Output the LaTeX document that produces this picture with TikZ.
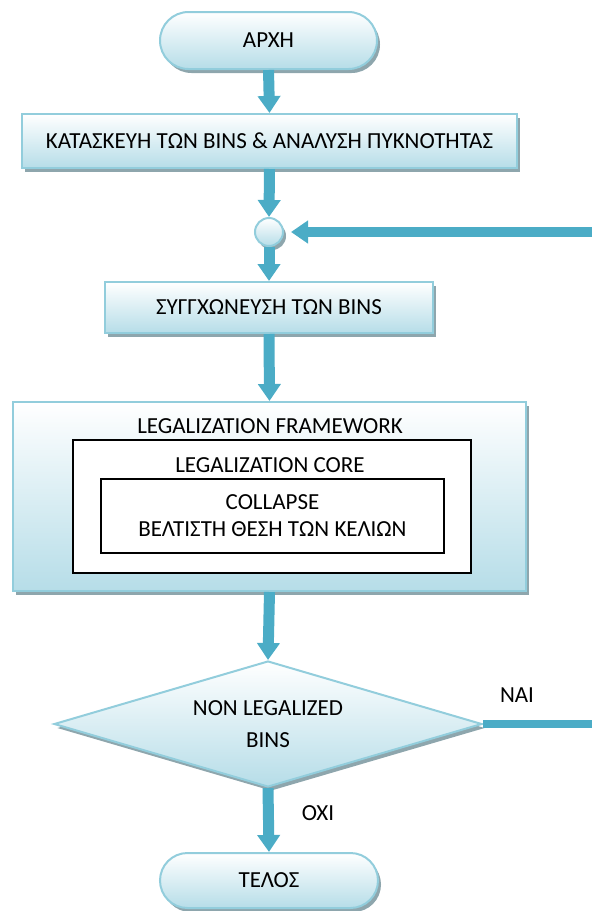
\documentclass[tikz,border=0pt]{standalone}
\usepackage{fontspec}
\setmainfont{Carlito}
\usepackage{tikz}
\usetikzlibrary{arrows.meta,positioning,shapes.geometric,shapes.misc,shadows}

\definecolor{edgeblue}{HTML}{92CDDC}
\definecolor{fillblue}{HTML}{B6DDE8}
\definecolor{flowblue}{HTML}{4BACC6}
\definecolor{shadegray}{HTML}{8EA6AD}

\begin{document}
\begin{tikzpicture}[x=1pt, y=-1pt,
    font=\fontsize{23}{32}\selectfont,
    boxshadow/.style={drop shadow={shadow xshift=3pt, shadow yshift=-4pt, fill=shadegray, opacity=1}},
    panel/.style={draw=edgeblue, line width=2pt, top color=white, bottom color=fillblue, boxshadow, inner sep=0pt},
    terminal/.style={panel, rounded rectangle, minimum width=217pt, minimum height=57pt},
    stepbox/.style={panel, rectangle, minimum height=54pt},
    decision/.style={panel, diamond, aspect=3.4, minimum width=428pt, minimum height=126pt},
    junction/.style={panel, circle, minimum size=28pt},
    plainbox/.style={draw=black, line width=1.5pt, fill=white, inner sep=0pt},
    flow/.style={flowblue, line width=11pt, -{Triangle[width=22pt, length=17pt]}},
    loopline/.style={flowblue, line width=8pt}
]
    \useasboundingbox (0,0) rectangle (592,911);

    % Start and first steps
    \node[terminal] (start) at (268.5,40.5) {ΑΡΧΗ};
    \node[stepbox, minimum width=495pt] (bins) at (269.5,141) {ΚΑΤΑΣΚΕΥΗ ΤΩΝ BINS \& ΑΝΑΛΥΣΗ ΠΥΚΝΟΤΗΤΑΣ};
    \node[junction] (merge) at (269,232) {};
    \node[stepbox, minimum width=328pt, minimum height=51pt] (join) at (269,307.5) {ΣΥΓΓΧΩΝΕΥΣΗ ΤΩΝ BINS};

    % Legalization framework
    \node[panel, minimum width=513pt, minimum height=189pt] (frame) at (269.5,496.5) {};
    \node (frametitle) at (270,426) {LEGALIZATION FRAMEWORK};
    \node[plainbox, minimum width=398pt, minimum height=133pt] (core) at (272,506.5) {};
    \node (coretitle) at (270,465) {LEGALIZATION CORE};
    \node[plainbox, minimum width=343pt, minimum height=74pt, align=center,
          font=\fontsize{23}{27}\selectfont] (collapse) at (272.5,516) {COLLAPSE\\ΒΕΛΤΙΣΤΗ ΘΕΣΗ ΤΩΝ ΚΕΛΙΩΝ};

    % Decision and end
    \node[decision, align=center] (check) at (268,724) {NON LEGALIZED\\BINS};
    \node[terminal, minimum width=218pt, minimum height=55pt] (stop) at (269,880.5) {ΤΕΛΟΣ};
    \node (yes) at (517,695) {ΝΑΙ};
    \node (no) at (318,813) {ΟΧΙ};

    % Flow arrows
    \draw[flow] (start.south) -- (bins.north);
    \draw[flow] (bins.south) -- (merge.north);
    \draw[flow] (merge.south) -- (join.north);
    \draw[flow] (join.south) -- (frame.north);
    \draw[flow] (frame.south) -- (check.north);
    \draw[flow] (check.south) -- (stop.north);

    % Loop back
    \coordinate (loopin) at (592,232);
    \coordinate (loopout) at (592,724);
    \draw[loopline] (check.east) -- (loopout);
    \draw[flow, line width=10pt, shorten >=7pt] (loopin) -- (merge.east);
\end{tikzpicture}
\end{document}
